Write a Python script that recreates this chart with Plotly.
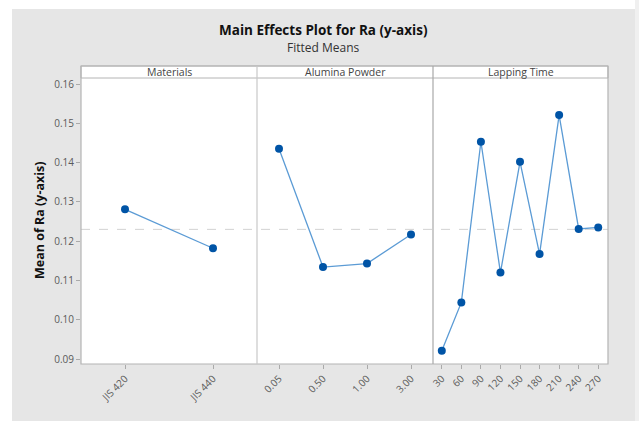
import plotly.graph_objects as go

materials = ["JIS 420", "JIS 440"]
materials_mean = [0.1281, 0.1182]

alumina = ["0.05", "0.50", "1.00", "3.00"]
alumina_mean = [0.1435, 0.1134, 0.1143, 0.1217]

lapping = ["30", "60", "90", "120", "150", "180", "210", "240", "270"]
lapping_mean = [0.0921, 0.1044, 0.1453, 0.1120, 0.1402, 0.1167, 0.1521, 0.1231, 0.1235]

overall_mean = 0.1230
panel_titles = ["Materials", "Alumina Powder", "Lapping Time"]
y_ticks = [0.09, 0.10, 0.11, 0.12, 0.13, 0.14, 0.15, 0.16]

W, H = 639, 421
L, R, T, B = 81, 31, 78, 57
pw, ph = W - L - R, H - T - B


def px_x(p):
    return (p - L) / pw


def px_y(p):
    return (H - B - p) / ph


d1 = px_x(257)
d2 = px_x(433)
domains = [[0, d1], [d1, d2], [d2, 1]]
ranges = [[-0.5, 1.5], [-0.5, 3.5], [-0.45, 8.5]]

fig = go.Figure()
series = [(materials, materials_mean), (alumina, alumina_mean), (lapping, lapping_mean)]
for i, (cats, vals) in enumerate(series):
    sx = "x" if i == 0 else f"x{i+1}"
    sy = "y" if i == 0 else f"y{i+1}"
    fig.add_trace(go.Scatter(
        x=cats, y=vals, xaxis=sx, yaxis=sy, mode="lines+markers",
        line=dict(color="#5b9bd5", width=1.3),
        marker=dict(color="#0054a6", size=8, symbol="circle"),
        showlegend=False, hoverinfo="x+y",
    ))

yr = [0.08873, 0.16153]
axfont = dict(family="Open Sans, Noto Sans, sans-serif", size=10, color="#5a5a5a")
layout = dict(
    width=W, height=H,
    margin=dict(l=L, r=R, t=T, b=B, pad=0),
    paper_bgcolor="#e6e6e6",
    plot_bgcolor="white",
    showlegend=False,
)
for i in range(3):
    xk = "xaxis" if i == 0 else f"xaxis{i+1}"
    yk = "yaxis" if i == 0 else f"yaxis{i+1}"
    layout[xk] = dict(
        domain=domains[i], type="category", range=ranges[i],
        anchor="y" if i == 0 else f"y{i+1}",
        showgrid=False, zeroline=False, showline=False,
        ticks="outside", ticklen=4, tickcolor="#aaaaaa", tickwidth=1,
        tickangle=-45, tickfont=axfont, fixedrange=True,
    )
    ydict = dict(
        range=yr, showgrid=False, zeroline=False, showline=False,
        anchor="x" if i == 0 else f"x{i+1}", fixedrange=True,
    )
    if i == 0:
        ydict.update(tickvals=y_ticks, tickformat=".2f", ticks="outside",
                     ticklen=4, tickcolor="#aaaaaa", tickfont=axfont)
    else:
        ydict.update(matches="y", showticklabels=False, ticks="")
    layout[yk] = ydict
fig.update_layout(**layout)

shapes = []
# white outer margins
shapes.append(dict(type="rect", xref="paper", yref="paper", x0=px_x(0), x1=px_x(W),
                   y0=px_y(9), y1=px_y(0), fillcolor="white", line=dict(width=0), layer="below"))
shapes.append(dict(type="rect", xref="paper", yref="paper", x0=px_x(0), x1=px_x(12),
                   y0=px_y(H), y1=px_y(0), fillcolor="white", line=dict(width=0), layer="below"))
shapes.append(dict(type="rect", xref="paper", yref="paper", x0=px_x(635), x1=px_x(W),
                   y0=px_y(H), y1=px_y(0), fillcolor="#f0f0f0", line=dict(width=0), layer="below"))
# strips
strip_top = px_y(66)
shapes.append(dict(type="rect", xref="paper", yref="paper", x0=0, x1=1, y0=1, y1=strip_top,
                   fillcolor="white", line=dict(color="#b4b4b4", width=1)))
# frame
shapes.append(dict(type="rect", xref="paper", yref="paper", x0=0, x1=1, y0=0, y1=strip_top,
                   line=dict(color="#b4b4b4", width=1.2)))
for d, c in [(d1, "#c8c8c8"), (d2, "#a8a8a8")]:
    shapes.append(dict(type="line", xref="paper", yref="paper", x0=d, x1=d, y0=0, y1=strip_top,
                       line=dict(color=c, width=1.2)))
# overall mean reference
shapes.append(dict(type="line", xref="paper", yref="y", x0=0, x1=1, y0=overall_mean, y1=overall_mean,
                   line=dict(color="#d2d2d2", width=1, dash="dash"), layer="below"))
fig.update_layout(shapes=shapes)

ann = []
for i, t in enumerate(panel_titles):
    ann.append(dict(text=t, xref="paper", yref="paper", x=(domains[i][0] + domains[i][1]) / 2,
                    y=(1 + strip_top) / 2, showarrow=False, xanchor="center", yanchor="middle",
                    font=dict(family="Open Sans, Noto Sans, sans-serif", size=10.5, color="#444444")))
ann.append(dict(text="<b>Main Effects Plot for Ra (y-axis)</b>", xref="paper", yref="paper",
                x=px_x(323), y=px_y(30), showarrow=False, xanchor="center", yanchor="middle",
                font=dict(family="Open Sans, Noto Sans, sans-serif", size=13.5, color="#111111")))
ann.append(dict(text="Fitted Means", xref="paper", yref="paper",
                x=px_x(323), y=px_y(47), showarrow=False, xanchor="center", yanchor="middle",
                font=dict(family="Open Sans, Noto Sans, sans-serif", size=12, color="#333333")))
ann.append(dict(text="<b>Mean of Ra (y-axis)</b>", xref="paper", yref="paper",
                x=px_x(39), y=0.5, showarrow=False, xanchor="center", yanchor="middle",
                textangle=-90,
                font=dict(family="Open Sans, Noto Sans, sans-serif", size=12.5, color="#111111")))
fig.update_layout(annotations=ann)

fig.write_html(
    "out.html",
    config={"displayModeBar": False},
    post_script="document.body.style.margin='0';document.body.style.padding='0';"
                "document.documentElement.style.overflow='hidden';",
)
